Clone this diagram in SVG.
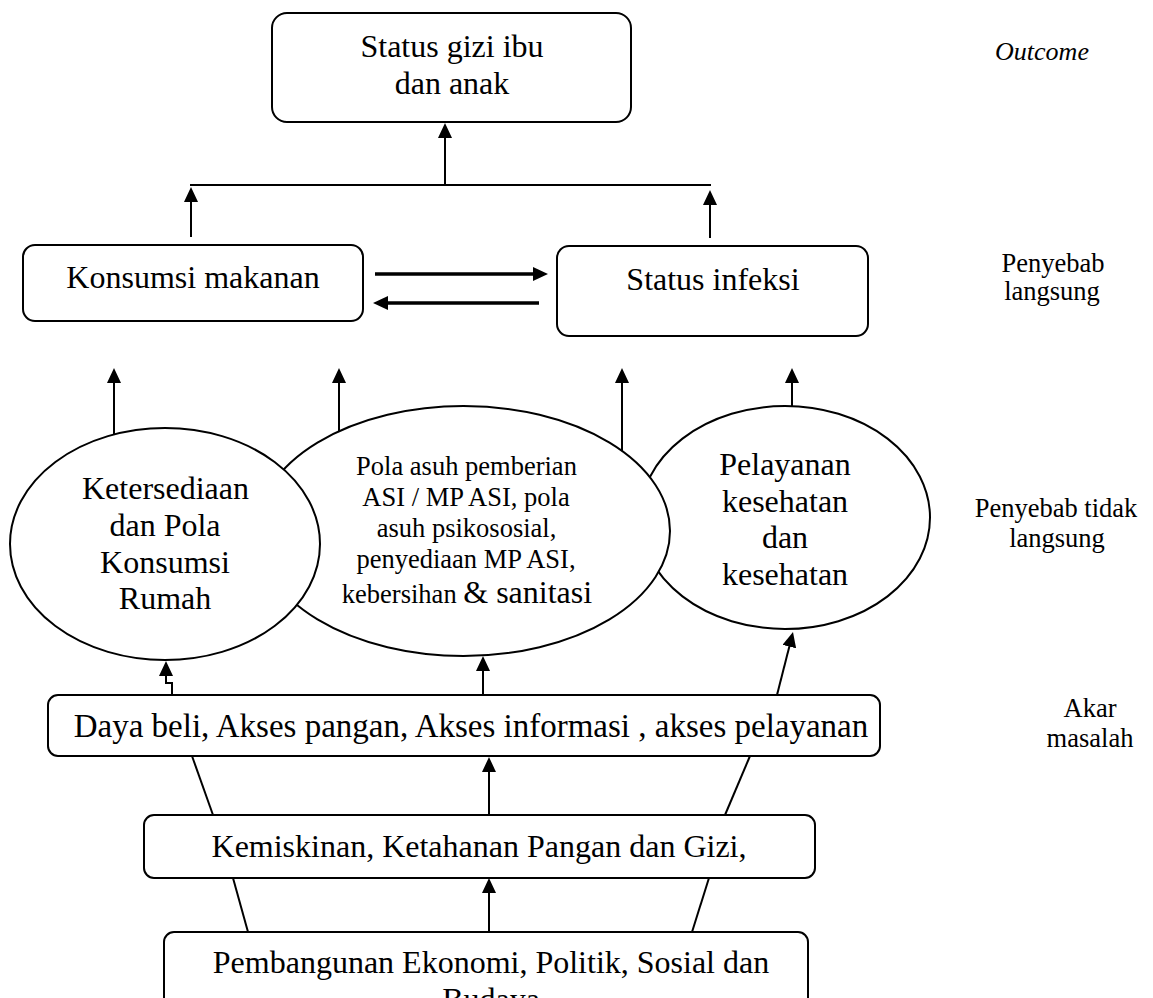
<svg xmlns="http://www.w3.org/2000/svg" width="1153" height="998" viewBox="0 0 1153 998">
<defs>
<style>
.box{fill:#fff;stroke:#000;stroke-width:2}
.ell{fill:#fff;stroke:#000;stroke-width:2}
.t{font-family:'Liberation Serif','Times New Roman',serif;fill:#000;text-anchor:middle}
.big{font-size:32px}
.mid{font-size:26.5px}
.lab{font-size:26.5px}
.it{font-style:italic;font-size:26px}
.ln{fill:none;stroke:#000;stroke-width:2}
.thick{fill:none;stroke:#000;stroke-width:3.5}
</style>
<marker id="ah" viewBox="0 0 15 14" refX="4" refY="7" markerWidth="15" markerHeight="14" markerUnits="userSpaceOnUse" orient="auto">
<path d="M0,0 L15,7 L0,14 z" fill="#000"/>
</marker>
</defs>
<rect width="1153" height="998" fill="#fff"/>

<g id="connectors">
<line class="ln" x1="445" y1="185" x2="445" y2="134" marker-end="url(#ah)"/>
<line class="ln" x1="190" y1="185" x2="711" y2="185"/>
<line class="ln" x1="191" y1="237" x2="191" y2="198" marker-end="url(#ah)"/>
<line class="ln" x1="710" y1="238" x2="710" y2="201" marker-end="url(#ah)"/>
<line class="thick" x1="375" y1="274" x2="537" y2="274" marker-end="url(#ah)"/>
<line class="thick" x1="539" y1="303" x2="384" y2="303" marker-end="url(#ah)"/>
<line class="ln" x1="114" y1="436" x2="114" y2="379" marker-end="url(#ah)"/>
<line class="ln" x1="339" y1="433" x2="339" y2="379" marker-end="url(#ah)"/>
<line class="ln" x1="622" y1="452" x2="622" y2="379" marker-end="url(#ah)"/>
<line class="ln" x1="792" y1="407" x2="792" y2="379" marker-end="url(#ah)"/>
<path class="ln" d="M172,695 V683 H166 V672" marker-end="url(#ah)"/>
<line class="ln" x1="483" y1="695" x2="483" y2="667" marker-end="url(#ah)"/>
<line class="ln" x1="777" y1="695" x2="790.3" y2="642.7" marker-end="url(#ah)"/>
<line class="ln" x1="192" y1="756" x2="213" y2="815"/>
<line class="ln" x1="233" y1="878" x2="248" y2="932"/>
<line class="ln" x1="750" y1="756" x2="725" y2="815"/>
<line class="ln" x1="709" y1="878" x2="692" y2="932"/>
<line class="ln" x1="489" y1="815" x2="489" y2="768" marker-end="url(#ah)"/>
<line class="ln" x1="489" y1="932" x2="489" y2="889" marker-end="url(#ah)"/>
</g>

<g id="status-gizi">
<rect class="box" x="272" y="13" width="359" height="109" rx="15"/>
<text class="t big" x="452" y="57">Status gizi ibu</text>
<text class="t big" x="452" y="94">dan anak</text>
</g>

<g id="konsumsi-makanan">
<rect class="box" x="23" y="245" width="340" height="76" rx="12"/>
<text class="t big" x="193" y="288">Konsumsi makanan</text>
</g>

<g id="status-infeksi">
<rect class="box" x="557" y="246" width="311" height="90" rx="12"/>
<text class="t big" x="713" y="290">Status infeksi</text>
</g>

<g id="pelayanan">
<ellipse class="ell" cx="785" cy="517.5" rx="145" ry="111.5"/>
<text class="t big" x="785" y="475">Pelayanan</text>
<text class="t big" x="785" y="512">kesehatan</text>
<text class="t big" x="785" y="548">dan</text>
<text class="t big" x="785" y="585">kesehatan</text>
</g>

<g id="pola-asuh">
<ellipse class="ell" cx="463.5" cy="531" rx="206.5" ry="125"/>
<text class="t mid" x="466.5" y="475">Pola asuh pemberian</text>
<text class="t mid" x="466" y="506">ASI / MP ASI, pola</text>
<text class="t mid" x="466.5" y="537">asuh psikososial,</text>
<text class="t mid" x="466" y="568">penyediaan MP ASI,</text>
<text class="t" x="467" y="603"><tspan style="font-size:26.5px">kebersihan </tspan><tspan style="font-size:32px">&amp; sanitasi</tspan></text>
</g>

<g id="ketersediaan">
<ellipse class="ell" cx="165" cy="544" rx="155" ry="116"/>
<text class="t big" x="165.5" y="499">Ketersediaan</text>
<text class="t big" x="165" y="536">dan Pola</text>
<text class="t big" x="165" y="573">Konsumsi</text>
<text class="t big" x="165" y="609">Rumah</text>
</g>

<g id="daya-beli">
<rect class="box" x="48" y="695" width="832" height="61" rx="10"/>
<text class="t big" x="471" y="737" style="font-size:33px">Daya beli, Akses pangan, Akses informasi , akses pelayanan</text>
</g>

<g id="kemiskinan">
<rect class="box" x="144" y="815" width="671" height="63" rx="10"/>
<text class="t big" x="479" y="857">Kemiskinan, Ketahanan Pangan dan Gizi,</text>
</g>

<g id="pembangunan">
<rect class="box" x="164" y="932" width="644" height="90" rx="10"/>
<text class="t big" x="491" y="973">Pembangunan Ekonomi, Politik, Sosial dan</text>
<text class="t big" x="491" y="1010">Budaya</text>
</g>

<g id="labels">
<text class="t it" x="1042" y="60">Outcome</text>
<text class="t lab" x="1053" y="272">Penyebab</text>
<text class="t lab" x="1052" y="300">langsung</text>
<text class="t lab" x="1056" y="517">Penyebab tidak</text>
<text class="t lab" x="1057" y="547">langsung</text>
<text class="t lab" x="1090" y="717">Akar</text>
<text class="t lab" x="1090" y="747">masalah</text>
</g>
</svg>
